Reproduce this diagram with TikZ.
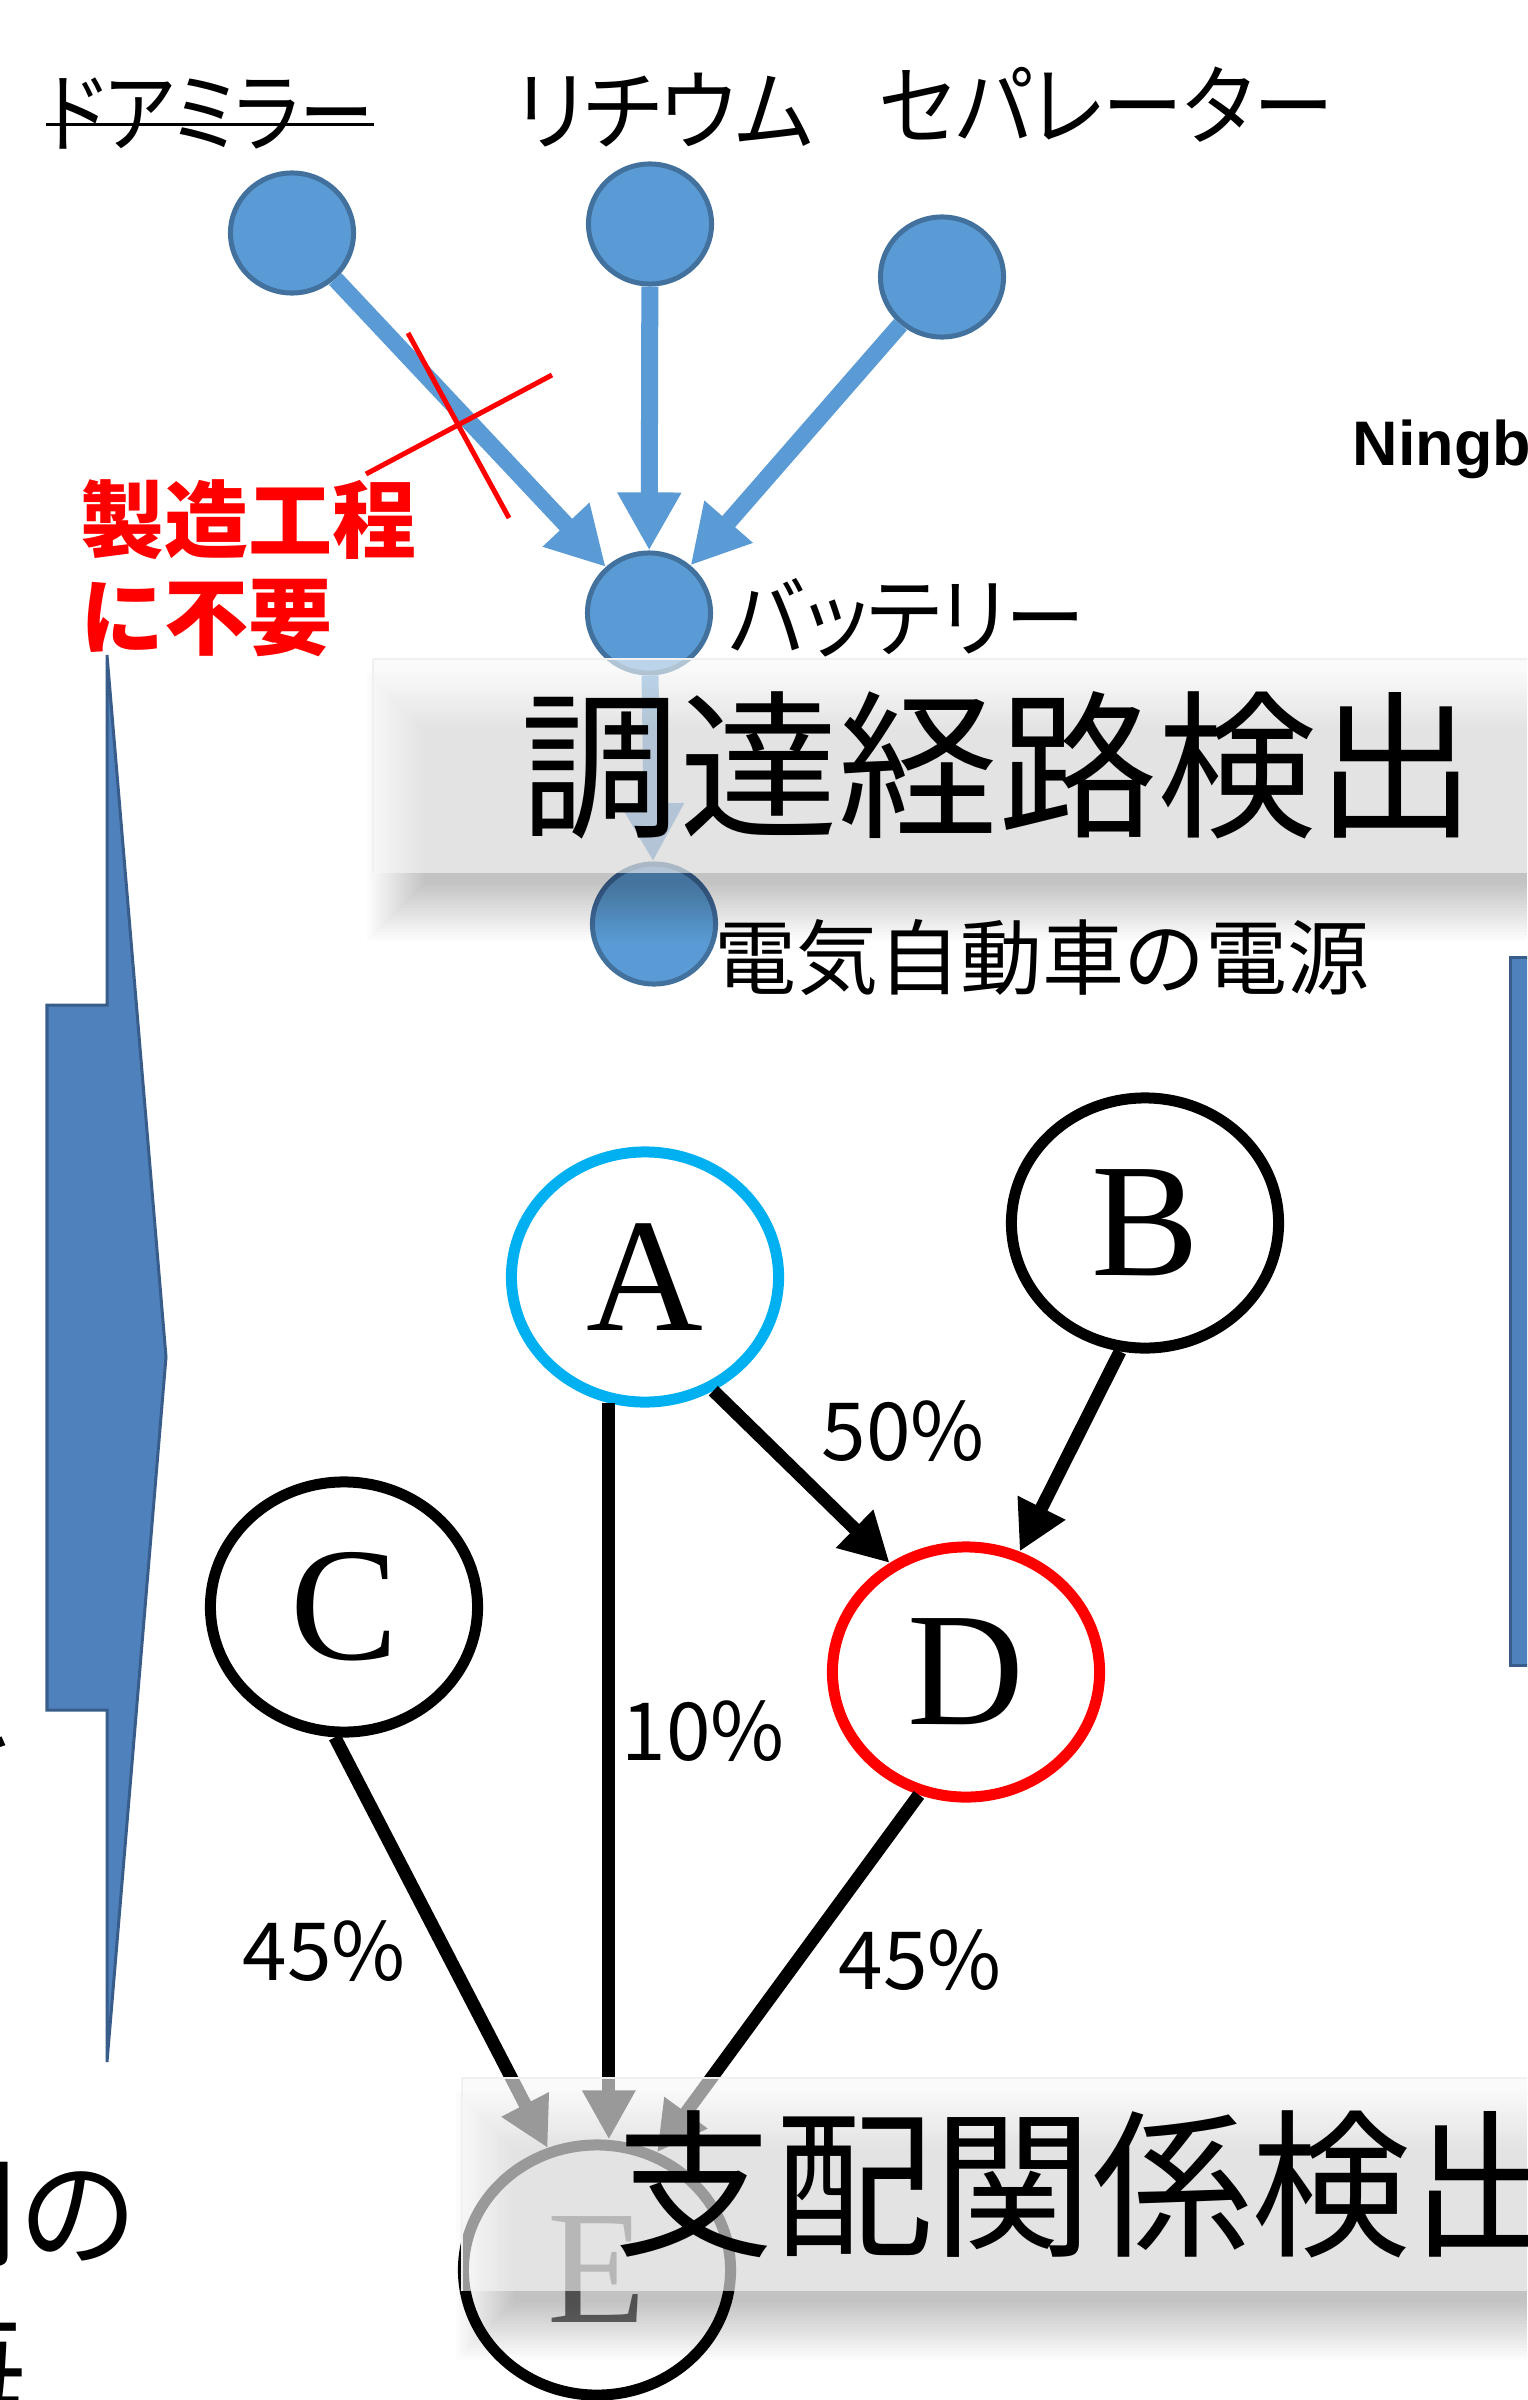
\documentclass[tikz,border=0pt]{standalone}
\usepackage{fontspec}
\usetikzlibrary{arrows.meta,shapes.geometric,calc}
\setmainfont{Liberation Serif}
\newfontfamily\jp{Noto Sans CJK JP}
\newfontfamily\jpk{Noto Sans CJK JP}[RawFeature=+palt]
\newfontfamily\arialf{Liberation Sans}
\newcommand\fsz[1]{\fontsize{#1}{#1}\selectfont}
\definecolor{bfill}{HTML}{5B9BD5}
\definecolor{bdark}{HTML}{41719C}
\definecolor{afill}{HTML}{4F81BD}
\definecolor{adark}{HTML}{385D8A}
\definecolor{acyan}{HTML}{00B0F0}
\begin{document}
\begin{tikzpicture}[x=0.01cm,y=-0.01cm,
  bnode/.style={ellipse, draw=bdark, fill=bfill, line width=0.05cm, minimum width=1.23cm, minimum height=1.2cm, inner sep=0pt},
  gnode/.style={ellipse, draw, line width=0.11cm, minimum width=2.67cm, minimum height=2.5cm, inner sep=0pt, font=\fsz{46}},
  bedge/.style={draw=bfill, line width=0.17cm, -{Triangle[length=0.58cm,width=0.6cm]}},
  kedge/.style={draw=black, line width=0.13cm, -{Triangle[length=0.49cm,width=0.5cm]}},
  kata/.style={inner sep=0pt, font=\jpk\fsz{25}},
  jplab/.style={inner sep=0pt, font=\jp\fsz{23.3}},
  redt/.style={inner sep=0pt, text=red, font=\jp\bfseries\fsz{23.9}},
  pct/.style={inner sep=0pt, font=\jp\fsz{22.8}},
  title/.style={inner sep=0pt, font=\jp\fsz{45.3}},
  sidetext/.style={inner sep=0pt, anchor=base west, font=\jp\fsz{34}},
  bigarrow/.style={fill=afill, draw=adark, line width=0.03cm},
  glass/.style={fill=gray!6, fill opacity=0.62},
  redx/.style={draw=red, line width=0.05cm}
]
\useasboundingbox (0,0) rectangle (1527,2400);
\clip (0,0) rectangle (1527,2400);
\fill[white] (0,0) rectangle (1527,2400);

% side arrow and right block
\filldraw[bigarrow] (107,655) -- (166,1357) -- (107,2062) -- (107,1710) -- (47,1710) -- (47,1005) -- (107,1005) -- cycle;
\filldraw[bigarrow] (1510,957) rectangle (1560,1665);

% ---- procurement graph ----
\node[bnode] (dm) at (292,233) {};
\node[bnode] (li) at (650,224) {};
\node[bnode] (se) at (942,277) {};
\node[bnode] (bat) at (649,613) {};
\node[bnode] (ev) at (654,924) {};

\draw[bedge] (dm) -- (bat);
\draw[bedge] (li) -- (bat);
\draw[bedge] (se) -- (bat);
\draw[bedge] (bat) -- (ev);

\node[kata] (tdm) at (210,114) {\scalebox{0.85}[1]{ドアミラー}};
\draw[line width=0.03cm] ($(tdm.west)+(0,11)$) -- ($(tdm.east)+(0,11)$);
\node[kata] (tli) at (665,110) {\scalebox{0.95}[1]{リチウム}};
\node[kata] (tse) at (1106,105) {\scalebox{0.92}[1]{セパレーター}};
\node[kata] (tbat) at (907,618) {\scalebox{0.91}[1]{バッテリー}};
\node[jplab] (tev) at (1042,958) {電気自動車の電源};

\draw[redx] (408,333) -- (509,518);
\draw[redx] (366,474) -- (552,375);
\node[redt, anchor=west] (r1) at (80,520) {製造工程};
\node[redt, anchor=west] (r2) at (80,618) {に不要};

\node[inner sep=0pt, anchor=base west, font=\arialf\bfseries\fsz{17.9}] (ning) at (1352,465) {Ningb};

% ---- dominance graph ----
\node[gnode, draw=acyan] (A) at (645,1277) {A};
\node[gnode] (B) at (1145,1223) {B};
\node[gnode] (C) at (344,1607) {C};
\node[gnode, draw=red] (D) at (966,1672) {D};
\node[gnode, text=black!55] (E) at (597,2270) {E};

\draw[kedge] (A.301) -- (D.125);
\draw[kedge] (B.259) -- (D.66);
\draw[kedge] (A.254) -- (A.254 |- E.north);
\draw[kedge] (C.266) -- (E.112);
\draw[kedge] (D.249) -- (E.63);

\node[pct] (p50) at (903,1431) {50\%};
\node[pct] (p10) at (703,1731) {10\%};
\node[pct] (p45a) at (324,1951) {45\%};
\node[pct] (p45b) at (920,1960) {45\%};

% left texts, cut by the picture edge
\node[sidetext] (lt1) at (-100,1798) {を};
\node[sidetext] (lt2) at (-102,2257) {間の};
\node[sidetext] (lt3) at (-93,2411) {毎};

% ---- glass boxes with soft shadows ----
\foreach \i in {0,...,19} {
  \fill[black, opacity=0.011] (395-28+3*\i, 700-28+3*\i) rectangle (1560, 913+28-3*\i);
  \fill[black, opacity=0.011] (484-28+3*\i, 2119-28+3*\i) rectangle (1560, 2332+28-3*\i);
}
\fill[glass] (373,659) rectangle (1560,873);
\fill[glass] (462,2078) rectangle (1560,2291);
\draw[gray!12, line width=0.02cm] (373,659) -- (1560,659) (373,659) -- (373,873);
\draw[gray!12, line width=0.02cm] (462,2078) -- (1560,2078) (462,2078) -- (462,2291);

\node[title] (t1) at (998,765) {調達経路検出};
\node[title, anchor=west] (t2) at (614,2184) {支配関係検出};
\end{tikzpicture}
\end{document}
